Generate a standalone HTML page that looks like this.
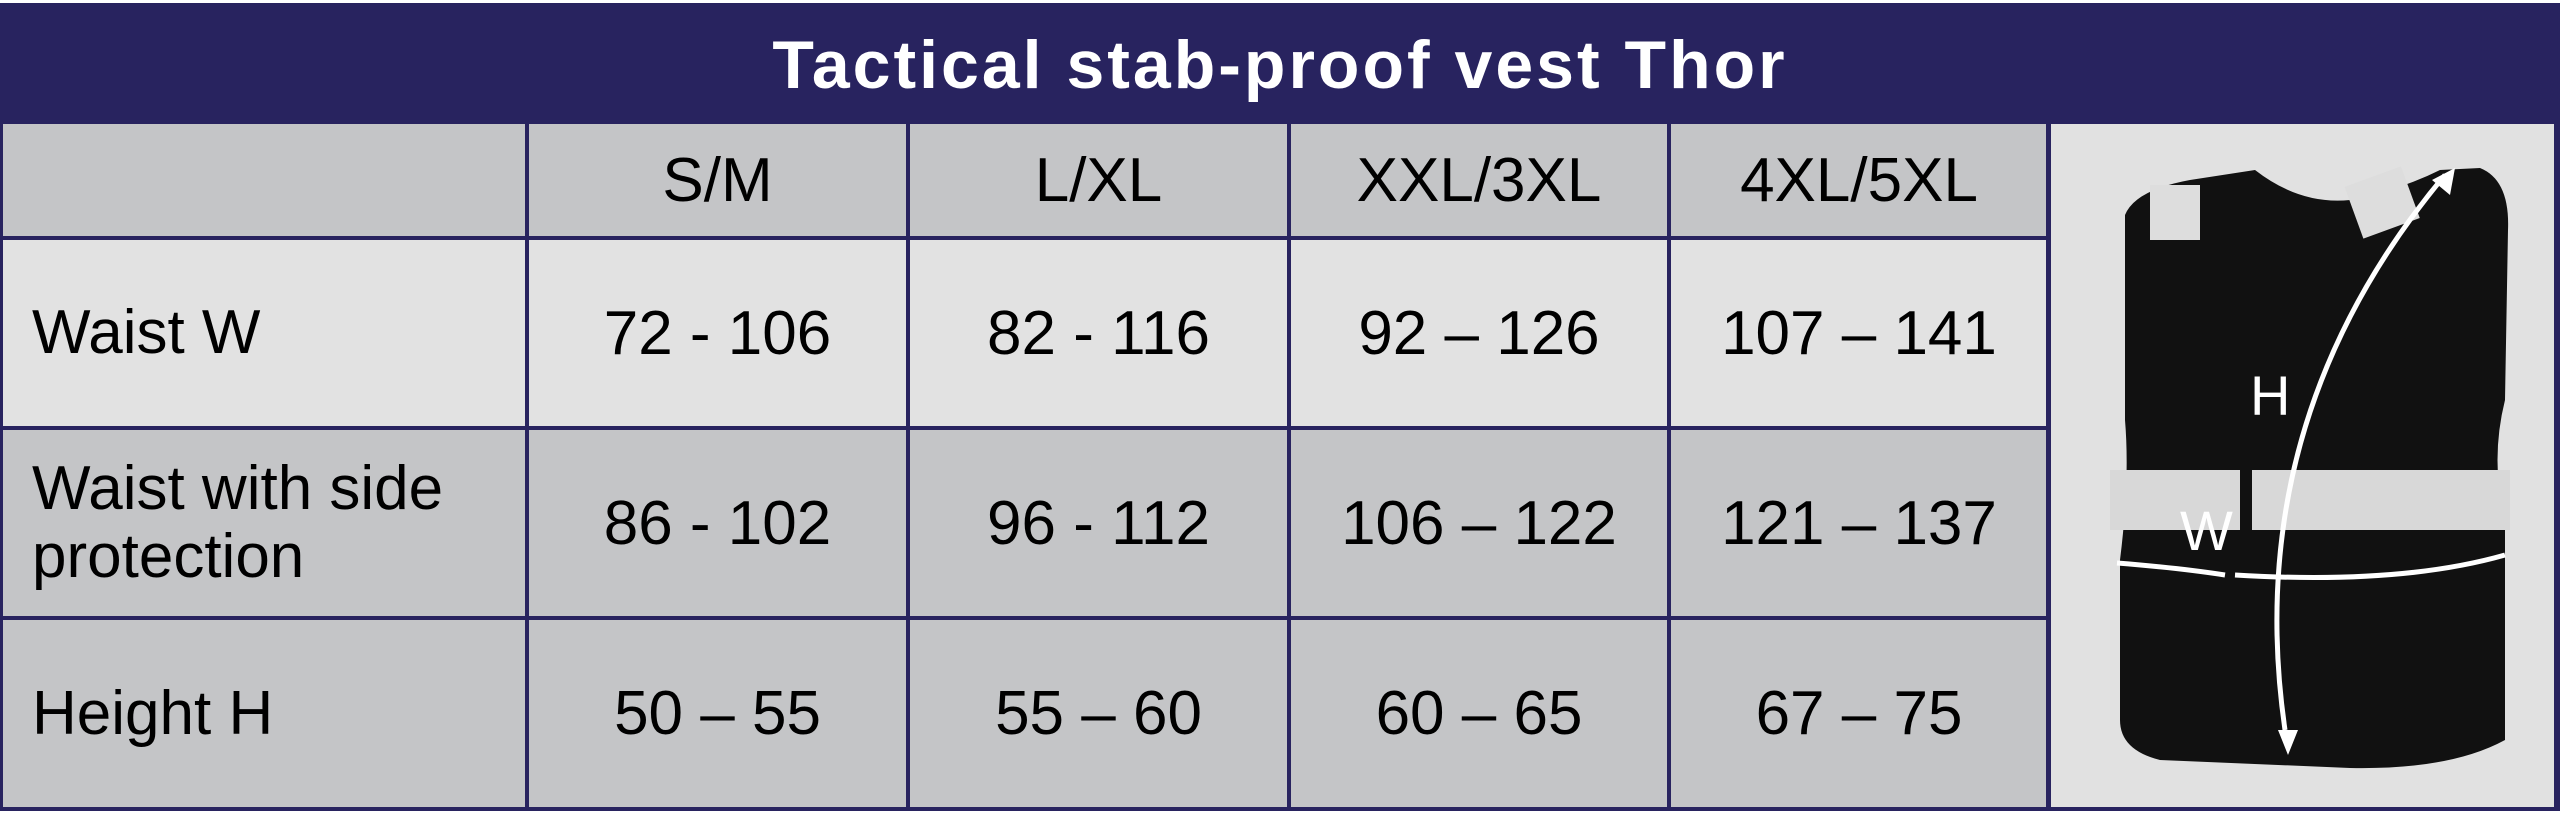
<!DOCTYPE html>
<html><head><meta charset="utf-8"><style>
html,body{margin:0;padding:0;width:2560px;height:813px;background:#fff;overflow:hidden}
.t{position:absolute;font-family:"Liberation Sans",sans-serif;color:#000}
.cell{position:absolute;box-sizing:border-box}
.c{display:flex;align-items:center;justify-content:center;font-size:62px}
.l{display:flex;align-items:center;justify-content:flex-start;padding-left:32px;font-size:62px;line-height:68px}
</style></head><body>
<div class="cell" style="left:0;top:3px;width:2560px;height:808px;background:#28235f"></div>
<div class="t" style="left:0;top:6px;width:2560px;height:118px;display:flex;align-items:center;justify-content:center;color:#fff;font-weight:bold;font-size:68px;letter-spacing:3px">Tactical stab-proof vest Thor</div>
<div class="cell" style="left:3px;top:124px;width:2043px;height:112px;background:#c4c5c7"></div>
<div class="cell" style="left:3px;top:240px;width:2043px;height:186px;background:#e2e2e2"></div>
<div class="cell" style="left:3px;top:430px;width:2043px;height:186px;background:#c4c5c7"></div>
<div class="cell" style="left:3px;top:620px;width:2043px;height:187px;background:#c4c5c7"></div>
<div class="cell" style="left:2051px;top:124px;height:683px;background:#e1e1e1;width:503px"></div>
<div class="cell" style="left:525px;top:124px;width:4px;height:685px;background:#28235f"></div>
<div class="cell" style="left:906px;top:124px;width:4px;height:685px;background:#28235f"></div>
<div class="cell" style="left:1287px;top:124px;width:4px;height:685px;background:#28235f"></div>
<div class="cell" style="left:1667px;top:124px;width:4px;height:685px;background:#28235f"></div>
<div class="t c" style="left:529px;top:124px;width:377px;height:112px">S/M</div>
<div class="t c" style="left:910px;top:124px;width:377px;height:112px">L/XL</div>
<div class="t c" style="left:1291px;top:124px;width:376px;height:112px">XXL/3XL</div>
<div class="t c" style="left:1671px;top:124px;width:376px;height:112px">4XL/5XL</div>

<div class="t l" style="left:0;top:240px;width:525px;height:186px">Waist W</div>
<div class="t c" style="left:529px;top:240px;width:377px;height:186px">72 - 106</div>
<div class="t c" style="left:910px;top:240px;width:377px;height:186px">82 - 116</div>
<div class="t c" style="left:1291px;top:240px;width:376px;height:186px">92 – 126</div>
<div class="t c" style="left:1671px;top:240px;width:376px;height:186px">107 – 141</div>

<div class="t l" style="left:0;top:430px;width:525px;height:186px">Waist with side<br>protection</div>
<div class="t c" style="left:529px;top:430px;width:377px;height:186px">86 - 102</div>
<div class="t c" style="left:910px;top:430px;width:377px;height:186px">96 - 112</div>
<div class="t c" style="left:1291px;top:430px;width:376px;height:186px">106 – 122</div>
<div class="t c" style="left:1671px;top:430px;width:376px;height:186px">121 – 137</div>

<div class="t l" style="left:0;top:620px;width:525px;height:187px">Height H</div>
<div class="t c" style="left:529px;top:620px;width:377px;height:187px">50 – 55</div>
<div class="t c" style="left:910px;top:620px;width:377px;height:187px">55 – 60</div>
<div class="t c" style="left:1291px;top:620px;width:376px;height:187px">60 – 65</div>
<div class="t c" style="left:1671px;top:620px;width:376px;height:187px">67 – 75</div>

<svg class="cell" style="left:0;top:0" width="2560" height="813" viewBox="0 0 2560 813">
<path d="M2125 215 Q2135 190 2190 180 L2255 170 Q2300 205 2350 200 Q2400 190 2440 170 L2480 168 Q2510 180 2508 230 L2505 400 Q2490 460 2505 520 L2505 740 Q2450 770 2350 768 L2160 760 Q2120 750 2120 720 L2120 560 Q2130 480 2125 420 Z" fill="#111"/>
<rect x="2150" y="185" width="50" height="55" fill="#ddd"/>
<rect x="2352" y="175" width="60" height="55" fill="#ddd" transform="rotate(-20 2382 202)"/>
<rect x="2110" y="470" width="400" height="60" fill="#d8d8d8"/>
<rect x="2240" y="465" width="12" height="70" fill="#111"/>
<path d="M2117 563 Q2180 568 2225 575 M2235 575 Q2400 585 2505 555" stroke="#fff" stroke-width="5" fill="none"/>
<path d="M2285 730 Q2240 420 2445 175" stroke="#fff" stroke-width="5" fill="none"/>
<polygon points="2278,730 2298,730 2288,755" fill="#fff"/>
<polygon points="2432,180 2455,168 2450,195" fill="#fff"/>
<text x="2250" y="415" fill="#fff" font-family="Liberation Sans,sans-serif" font-size="56">H</text>
<text x="2180" y="550" fill="#fff" font-family="Liberation Sans,sans-serif" font-size="56">W</text>
</svg>
</body></html>
